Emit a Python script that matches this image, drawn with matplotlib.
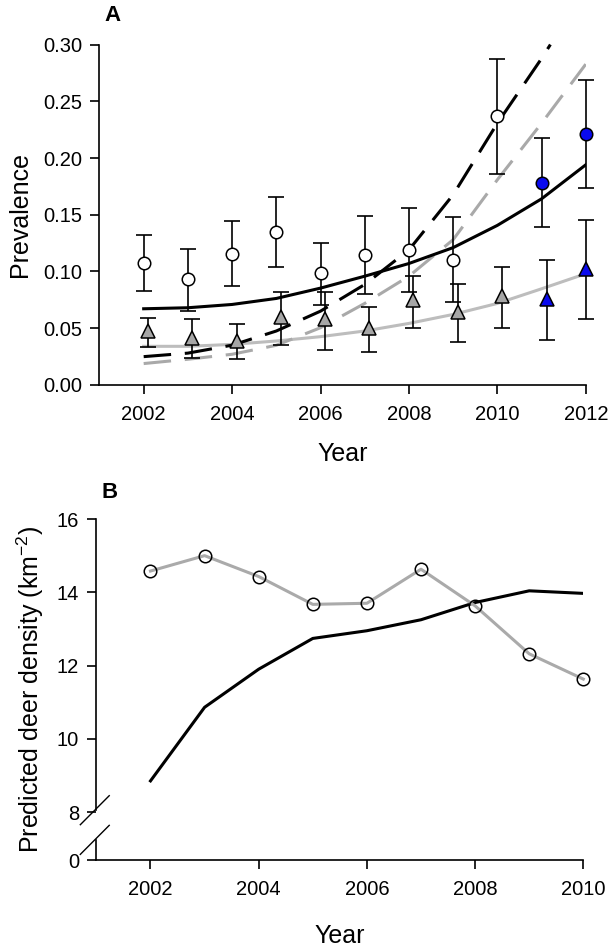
import numpy as np
import matplotlib
matplotlib.use("Agg")
import matplotlib.pyplot as plt

plt.rcParams['font.family'] = ['Liberation Sans', 'DejaVu Sans']
plt.rcParams['mathtext.default'] = 'regular'

# ---- panel A data ----
years_a = [2002, 2003, 2004, 2005, 2006, 2007, 2008, 2009, 2010, 2011, 2012]

circ_val = [0.1075, 0.0929, 0.1157, 0.1348, 0.0982, 0.1146, 0.1192, 0.1105, 0.2370, 0.1784, 0.2212]
circ_hi = [0.1318, 0.1200, 0.1444, 0.1652, 0.1254, 0.1491, 0.1559, 0.1477, 0.2877, 0.2177, 0.2684]
circ_lo = [0.0832, 0.0650, 0.0876, 0.1037, 0.0703, 0.0797, 0.0817, 0.0730, 0.1855, 0.1389, 0.1737]

tri_x = [2002.1, 2003.1, 2004.1, 2005.1, 2006.1, 2007.1, 2008.1, 2009.1, 2010.1, 2011.12, 2012.0]
tri_val = [0.0475, 0.0416, 0.0387, 0.0598, 0.0577, 0.0504, 0.0744, 0.0642, 0.0782, 0.0753, 0.1023]
tri_hi = [0.0592, 0.0583, 0.0533, 0.0817, 0.0820, 0.0686, 0.0964, 0.0885, 0.1037, 0.1105, 0.1450]
tri_lo = [0.0334, 0.0240, 0.0226, 0.0352, 0.0310, 0.0290, 0.0498, 0.0378, 0.0498, 0.0396, 0.0577]

n_new = 2  # last two years drawn in blue

fit_black = [0.0671, 0.0680, 0.0709, 0.0762, 0.0853, 0.0958, 0.1070, 0.1210, 0.1406, 0.1640, 0.1940]
fit_gray = [0.0340, 0.0340, 0.0357, 0.0387, 0.0425, 0.0475, 0.0542, 0.0621, 0.0718, 0.0847, 0.0980]

dash_black_x = [2002, 2003, 2004, 2005, 2006, 2007, 2008, 2009, 2010, 2011, 2011.2]
dash_black = [0.0249, 0.0280, 0.0350, 0.0475, 0.0650, 0.0885, 0.1190, 0.1676, 0.2306, 0.2877, 0.3000]
dash_gray = [0.0188, 0.0226, 0.0270, 0.0349, 0.0504, 0.0718, 0.0958, 0.1280, 0.1808, 0.2306, 0.2827]

# ---- panel B data ----
years_b = [2002, 2003, 2004, 2005, 2006, 2007, 2008, 2009, 2010]
dens_gray = [14.58, 15.00, 14.43, 13.67, 13.70, 14.63, 13.63, 12.32, 11.63]
dens_black = [8.85, 10.86, 11.90, 12.74, 12.95, 13.25, 13.72, 14.04, 13.97]

blue = '#0a0aee'
lgray = '#bdbdbd'
tick_fs = 14.5
lab_fs = 18

fig = plt.figure(figsize=(6.14, 9.48), dpi=100)

# ================= Panel A =================
ax = fig.add_axes([0.162, 0.594, 0.792, 0.359])

ax.plot(years_a, fit_gray, color=lgray, lw=2.2, zorder=2)
ax.plot(years_a, dash_gray, color='#a9a9a9', lw=2.2, dashes=(9, 4.5), zorder=2)
ax.plot(years_a, fit_black, color='black', lw=2.2, zorder=2)
ax.plot(dash_black_x, dash_black, color='black', lw=2.2, dashes=(9, 4.5), zorder=2,
        clip_on=False)

cv = np.array(circ_val)
tv = np.array(tri_val)
c_err = [cv - np.array(circ_lo), np.array(circ_hi) - cv]
t_err = [tv - np.array(tri_lo), np.array(tri_hi) - tv]
for xs, vals, err in [(years_a, cv, c_err), (tri_x, tv, t_err)]:
    eb = ax.errorbar(xs, vals, yerr=err, fmt='none', ecolor='black', elinewidth=1.2,
                     capsize=6, capthick=1.2, zorder=3)
    for art in eb.get_children():
        art.set_clip_on(False)

k = len(years_a) - n_new
ax.plot(years_a[:k], circ_val[:k], 'o', ms=9, mfc='white', mec='black', mew=1.1, zorder=4)
ax.plot(years_a[k:], circ_val[k:], 'o', ms=9, mfc=blue, mec='black', mew=1.1, zorder=4,
        clip_on=False)
ax.plot(tri_x[:k], tri_val[:k], '^', ms=9.5, mfc='#a6a6a6', mec='black', mew=1.1, zorder=4)
ax.plot(tri_x[k:], tri_val[k:], '^', ms=9.5, mfc=blue, mec='black', mew=1.1, zorder=4,
        clip_on=False)

ax.set_xlim(2001, 2012)
ax.set_ylim(0, 0.30)
ax.set_xticks([2002, 2004, 2006, 2008, 2010, 2012])
ax.set_yticks([0, 0.05, 0.10, 0.15, 0.20, 0.25, 0.30])
ax.set_yticklabels(['0.00', '0.05', '0.10', '0.15', '0.20', '0.25', '0.30'])
for s in ['top', 'right']:
    ax.spines[s].set_visible(False)
for s in ['left', 'bottom']:
    ax.spines[s].set_linewidth(1.2)
ax.tick_params(direction='out', length=6.5, width=1.2, labelsize=tick_fs)
ax.tick_params(axis='x', pad=8)
ax.tick_params(axis='y', pad=6)
ax.set_xlabel('Year', fontsize=lab_fs, labelpad=13)
ax.set_ylabel('Prevalence', fontsize=lab_fs, labelpad=8)
fig.text(0.183, 0.984, 'A', fontsize=16, fontweight='bold', ha='center', va='center')

# ================= Panel B =================
bx = fig.add_axes([0.157, 0.0928, 0.793, 0.3597])
y_bot = 8 - 48 / 36.625  # visual position of the broken "0"

bx.plot(years_b, dens_black, color='black', lw=2.2, zorder=2)
bx.plot(years_b, dens_gray, color='#aaaaaa', lw=2.2, marker='o', ms=9,
        mfc='none', mec='black', mew=1.1, zorder=3, clip_on=False)

bx.set_xlim(2001, 2010)
bx.set_ylim(y_bot, 16)
bx.set_xticks([2002, 2004, 2006, 2008, 2010])
bx.set_yticks([y_bot, 8, 10, 12, 14, 16])
bx.set_yticklabels(['0', '8', '10', '12', '14', '16'])
for s in ['top', 'right', 'left']:
    bx.spines[s].set_visible(False)
bx.spines['bottom'].set_linewidth(1.2)
bx.tick_params(direction='out', length=6.5, width=1.2, labelsize=tick_fs)
bx.tick_params(axis='x', pad=8)
bx.tick_params(axis='y', pad=6)

# broken left axis
bx.plot([2001, 2001], [8.05, 16], color='black', lw=1.2, clip_on=False, zorder=5)
bx.plot([2001, 2001], [y_bot, 7.24], color='black', lw=1.2, clip_on=False, zorder=5)
dx = 14.5 / 54.3
dy = 14.5 / 36.625
for yc in [8.05, 7.24]:
    bx.plot([2001 - dx - 0.03, 2001 + dx - 0.03], [yc - dy, yc + dy], color='black',
            lw=1.0, clip_on=False, zorder=5)

bx.set_xlabel('Year', fontsize=lab_fs, labelpad=18)
bx.set_ylabel('Predicted deer density (km$^{-2}$)', fontsize=lab_fs, labelpad=8)
fig.text(0.178, 0.481, 'B', fontsize=16, fontweight='bold', ha='center', va='center')

fig.savefig('out.png', dpi=100)
